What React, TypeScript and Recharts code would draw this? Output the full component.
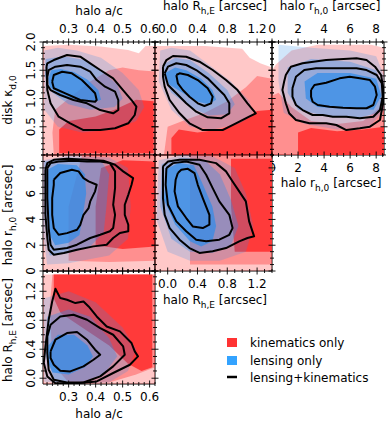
import React from 'react';
import { ScatterChart, Scatter, XAxis, YAxis } from 'recharts';

type Poly = [number, number][];

const RED = '#ff3333';
const BLUE = '#2f8bea';
const RED_ALPHA = [0.27, 0.38, 0.92];
const BLUE_ALPHA = [0.22, 0.35, 0.7];
const FONT = '"DejaVu Sans", sans-serif';

// panel boxes in page pixels
const COL_X = [43, 155, 272, 384];
const ROW_Y = [42, 155, 271, 384];
const M = 40;

// ---- axes ----
const AC_DOMAIN = [0.205, 0.62];
const AC_MAJOR = [0.3, 0.4, 0.5, 0.6];
const KAPPA_DOMAIN = [0.0, 2.0];
const KAPPA_MAJOR = [0.5, 1.0, 1.5, 2.0];
const RHE_X_DOMAIN = [-0.17, 1.4];
const RHE_Y_DOMAIN = [-0.08, 1.48];
const RHE_MAJOR = [0.0, 0.4, 0.8, 1.2];
const RH0_X_DOMAIN = [0, 8.6];
const RH0_Y_DOMAIN = [0, 9.0];
const RH0_MAJOR = [0, 2, 4, 6, 8];

// ---- halo a/c vs disk kappa ----
const AK_RED_1: Poly = [[0.205, 0], [0.62, 0], [0.62, 1.93], [0.585, 1.93], [0.56, 1.8], [0.52, 1.86], [0.42, 1.92], [0.3, 1.95], [0.205, 1.93]];
const AK_RED_2: Poly = [[0.245, 0], [0.62, 0], [0.62, 1.48], [0.56, 1.5], [0.5, 1.55], [0.45, 1.5], [0.38, 1.3], [0.3, 1.0], [0.25, 0.8], [0.24, 0.4]];
const AK_RED_3: Poly = [[0.265, 0.03], [0.615, 0.03], [0.615, 0.95], [0.55, 0.98], [0.47, 0.8], [0.4, 0.68], [0.3, 0.6], [0.265, 0.45]];
const AK_BLUE_1: Poly = [[0.21, 1.85], [0.26, 1.9], [0.33, 1.85], [0.42, 1.72], [0.5, 1.45], [0.56, 1.15], [0.58, 0.85], [0.55, 0.6], [0.47, 0.45], [0.35, 0.4], [0.26, 0.5], [0.21, 0.8]];
const AK_BLUE_2: Poly = [[0.215, 1.7], [0.28, 1.75], [0.36, 1.68], [0.42, 1.5], [0.48, 1.25], [0.5, 1.0], [0.47, 0.85], [0.38, 0.8], [0.3, 0.9], [0.24, 1.1], [0.212, 1.4]];
const AK_BLUE_3: Poly = [[0.225, 1.35], [0.235, 1.5], [0.27, 1.52], [0.32, 1.47], [0.37, 1.33], [0.41, 1.15], [0.42, 0.98], [0.39, 0.93], [0.33, 0.97], [0.27, 1.08], [0.23, 1.2]];
const AK_JOINT_1: Poly = [[0.218, 1.563], [0.221, 1.623], [0.245, 1.681], [0.294, 1.77], [0.343, 1.74], [0.38, 1.623], [0.417, 1.504], [0.465, 1.357], [0.496, 1.181], [0.533, 0.973], [0.551, 0.855], [0.545, 0.708], [0.521, 0.561], [0.472, 0.473], [0.417, 0.442], [0.355, 0.442], [0.306, 0.561], [0.263, 0.678], [0.233, 0.915], [0.221, 1.15]];
const AK_JOINT_2: Poly = [[0.221, 1.386], [0.226, 1.504], [0.251, 1.563], [0.294, 1.593], [0.343, 1.563], [0.38, 1.474], [0.404, 1.327], [0.435, 1.209], [0.472, 1.12], [0.484, 0.973], [0.484, 0.796], [0.465, 0.738], [0.417, 0.796], [0.368, 0.915], [0.318, 0.973], [0.269, 1.062], [0.233, 1.15], [0.221, 1.239]];
const AK_JOINT_3: Poly = [[0.239, 1.297], [0.245, 1.416], [0.276, 1.474], [0.312, 1.446], [0.349, 1.327], [0.38, 1.181], [0.398, 1.092], [0.404, 0.973], [0.398, 0.943], [0.343, 0.973], [0.288, 1.092], [0.245, 1.181]];

// ---- halo R_h,E vs disk kappa ----
const RK_RED_1: Poly = [[-0.17, 0], [1.4, 0], [1.4, 1.55], [1.25, 1.62], [1.1, 1.72], [1.0, 1.88], [0.5, 1.93], [-0.17, 1.93]];
const RK_RED_2: Poly = [[-0.05, 0], [1.4, 0], [1.4, 1.35], [1.2, 1.4], [1.05, 1.2], [0.8, 0.95], [0.5, 0.75], [0.2, 0.6], [0.0, 0.5]];
const RK_RED_3: Poly = [[0.05, 0], [1.4, 0], [1.4, 0.8], [1.2, 0.78], [1.0, 0.6], [0.7, 0.45], [0.4, 0.4], [0.15, 0.45], [0.05, 0.3]];
const RK_BLUE_1: Poly = [[-0.1, 1.85], [0.05, 1.9], [0.3, 1.85], [0.55, 1.6], [0.85, 1.3], [1.1, 0.95], [1.15, 0.7], [0.95, 0.55], [0.6, 0.45], [0.3, 0.5], [0.05, 0.8], [-0.12, 1.3]];
const RK_BLUE_2: Poly = [[-0.06, 1.6], [0.1, 1.72], [0.3, 1.68], [0.55, 1.45], [0.8, 1.15], [0.9, 0.9], [0.8, 0.72], [0.55, 0.7], [0.3, 0.85], [0.05, 1.1], [-0.06, 1.35]];
const RK_BLUE_3: Poly = [[-0.03, 1.45], [0.1, 1.55], [0.25, 1.5], [0.45, 1.35], [0.6, 1.15], [0.65, 0.98], [0.55, 0.9], [0.38, 0.95], [0.2, 1.1], [0.02, 1.25]];
const RK_JOINT_1: Poly = [[-0.063, 1.563], [-0.017, 1.681], [0.071, 1.752], [0.249, 1.74], [0.427, 1.651], [0.604, 1.504], [0.783, 1.327], [0.937, 1.15], [1.071, 0.915], [1.183, 0.738], [1.093, 0.678], [0.916, 0.561], [0.737, 0.442], [0.471, 0.442], [0.293, 0.561], [0.16, 0.738], [0.027, 0.973], [-0.04, 1.209], [-0.063, 1.386]];
const RK_JOINT_2: Poly = [[-0.04, 1.446], [0.004, 1.563], [0.116, 1.623], [0.249, 1.593], [0.383, 1.504], [0.537, 1.357], [0.649, 1.209], [0.76, 1.062], [0.827, 0.915], [0.827, 0.738], [0.716, 0.65], [0.537, 0.667], [0.383, 0.766], [0.249, 0.915], [0.116, 1.092], [0.004, 1.239]];
const RK_JOINT_3: Poly = [[0.116, 1.416], [0.16, 1.446], [0.271, 1.416], [0.404, 1.327], [0.537, 1.181], [0.604, 1.032], [0.583, 0.915], [0.493, 0.867], [0.404, 0.915], [0.293, 1.032], [0.204, 1.15], [0.137, 1.269]];

// ---- halo r_h,0 vs disk kappa ----
const HK_RED_1: Poly = [[0, 0], [8.6, 0], [8.6, 1.9], [7.6, 1.95], [3.5, 1.95], [1.5, 1.85], [0.3, 1.6], [0, 1.5]];
const HK_RED_2: Poly = [[0, 0], [8.6, 0], [8.6, 0.9], [7, 0.6], [5, 0.55], [3, 0.6], [1.5, 0.85], [0.5, 1.1], [0, 1.05]];
const HK_RED_3: Poly = [[2, 0], [8.6, 0], [8.6, 0.5], [7, 0.45], [5, 0.42], [3, 0.48], [2, 0.4]];
const HK_BLUE_1: Poly = [[0.5, 1.95], [3, 1.9], [6, 1.85], [8, 1.75], [8.6, 1.4], [8.6, 0.8], [7.5, 0.5], [5, 0.45], [2.5, 0.55], [0.9, 0.75], [0.5, 1.3]];
const HK_BLUE_2: Poly = [[1.2, 1.55], [3, 1.7], [6, 1.65], [8, 1.5], [8.6, 1.1], [8.2, 0.75], [6.5, 0.65], [4, 0.7], [2, 0.8], [1.2, 1.1]];
const HK_BLUE_3: Poly = [[2.5, 1.3], [3.5, 1.45], [6, 1.45], [8, 1.35], [8.4, 1.05], [7.8, 0.8], [5.5, 0.82], [3.5, 0.85], [2.6, 1.0]];
const HK_JOINT_1: Poly = [[0.93, 1.297], [1.06, 1.416], [1.45, 1.563], [2.35, 1.623], [4.16, 1.681], [6.49, 1.711], [7.26, 1.681], [7.91, 1.563], [8.37, 1.416], [8.53, 1.209], [8.53, 0.915], [8.29, 0.619], [7.52, 0.501], [6.74, 0.473], [5.71, 0.442], [4.94, 0.531], [4.16, 0.561], [2.87, 0.561], [1.84, 0.619], [1.32, 0.738], [1.06, 0.915], [0.8, 1.15]];
const HK_JOINT_2: Poly = [[1.57, 1.181], [1.84, 1.386], [2.48, 1.504], [3.39, 1.535], [4.94, 1.535], [6.49, 1.535], [7.26, 1.504], [8.04, 1.416], [8.43, 1.269], [8.5, 1.032], [8.29, 0.796], [7.78, 0.678], [6.74, 0.65], [5.71, 0.678], [4.67, 0.678], [3.9, 0.708], [3.12, 0.708], [2.35, 0.796], [1.84, 0.885], [1.57, 1.032]];
const HK_JOINT_3: Poly = [[3.0, 1.15], [3.26, 1.239], [4.16, 1.28], [5.19, 1.357], [5.97, 1.386], [6.74, 1.357], [7.52, 1.327], [7.91, 1.209], [8.04, 1.062], [7.78, 0.885], [7.26, 0.827], [6.49, 0.827], [5.45, 0.837], [4.42, 0.855], [3.51, 0.885], [3.12, 0.943], [3.0, 1.032]];

// ---- halo a/c vs halo r_h,0 ----
const AH_RED_1: Poly = [[0.205, 0], [0.62, 0], [0.62, 9], [0.205, 9]];
const AH_RED_2: Poly = [[0.3, 0.8], [0.45, 0.7], [0.62, 0.8], [0.62, 9], [0.35, 9], [0.3, 5]];
const AH_RED_3: Poly = [[0.4, 2.0], [0.5, 1.7], [0.62, 1.9], [0.62, 8.5], [0.5, 8.6], [0.42, 8.0], [0.4, 5]];
const AH_BLUE_1: Poly = [[0.205, 8.6], [0.3, 8.95], [0.45, 8.8], [0.52, 8], [0.53, 5], [0.52, 2.5], [0.45, 1.2], [0.3, 0.6], [0.22, 0.5], [0.205, 3]];
const AH_BLUE_2: Poly = [[0.21, 8.5], [0.3, 8.8], [0.42, 8.6], [0.45, 7.5], [0.44, 5], [0.43, 3], [0.38, 1.9], [0.3, 1.4], [0.23, 1.2], [0.21, 4]];
const AH_BLUE_3: Poly = [[0.225, 7.9], [0.26, 8.3], [0.33, 8.2], [0.36, 7.5], [0.365, 6], [0.35, 4], [0.34, 2.8], [0.3, 2.2], [0.25, 2.0], [0.225, 3], [0.22, 5.5]];
const AH_JOINT_1: Poly = [[0.214, 7.85], [0.221, 8.37], [0.245, 8.63], [0.294, 8.71], [0.368, 8.63], [0.429, 8.55], [0.472, 8.24], [0.502, 7.73], [0.539, 7.21], [0.533, 6.69], [0.521, 5.91], [0.508, 5.14], [0.508, 4.36], [0.521, 3.59], [0.521, 3.08], [0.49, 2.95], [0.465, 2.56], [0.441, 2.04], [0.392, 1.91], [0.331, 1.65], [0.282, 1.4], [0.245, 1.26], [0.226, 1.65], [0.221, 2.56], [0.214, 4.36], [0.214, 6.43]];
const AH_JOINT_2: Poly = [[0.221, 7.98], [0.233, 8.37], [0.263, 8.5], [0.318, 8.55], [0.368, 8.5], [0.417, 8.5], [0.453, 8.37], [0.472, 7.73], [0.472, 6.43], [0.465, 5.14], [0.472, 4.36], [0.465, 3.33], [0.453, 3.08], [0.417, 2.81], [0.38, 2.56], [0.331, 2.04], [0.294, 1.78], [0.245, 1.65], [0.233, 2.04], [0.226, 3.33], [0.221, 5.66], [0.221, 7.21]];
const AH_JOINT_3: Poly = [[0.245, 7.08], [0.269, 7.6], [0.312, 7.85], [0.337, 7.73], [0.355, 7.21], [0.374, 6.95], [0.404, 6.69], [0.398, 6.18], [0.38, 5.4], [0.374, 4.88], [0.355, 4.36], [0.343, 3.58], [0.331, 3.2], [0.294, 2.94], [0.263, 2.81], [0.245, 3.33], [0.239, 4.36], [0.239, 5.66], [0.245, 6.69]];

// ---- halo R_h,E vs halo r_h,0 ----
const RH_RED_1: Poly = [[-0.17, 0], [1.4, 0], [1.4, 9], [-0.17, 9]];
const RH_RED_2: Poly = [[0.3, 0.5], [1.4, 0.5], [1.4, 9], [0.3, 9]];
const RH_RED_3: Poly = [[0.9, 1.5], [1.4, 1.5], [1.4, 8.7], [0.85, 8.7], [0.85, 5]];
const RH_BLUE_1: Poly = [[-0.12, 8.6], [0.2, 9.0], [0.6, 8.9], [0.9, 8], [1.05, 6], [1.15, 3.5], [1.05, 1.5], [0.7, 0.8], [0.3, 0.8], [0.0, 1.5], [-0.15, 4]];
const RH_BLUE_2: Poly = [[-0.08, 8.3], [0.2, 8.8], [0.5, 8.6], [0.7, 7.5], [0.85, 5.5], [0.95, 3.5], [0.85, 2.0], [0.6, 1.4], [0.3, 1.5], [0.05, 2.5], [-0.1, 5]];
const RH_BLUE_3: Poly = [[-0.02, 7.9], [0.15, 8.4], [0.35, 8.2], [0.45, 7], [0.6, 5], [0.65, 3.5], [0.6, 2.3], [0.45, 1.9], [0.3, 2.3], [0.1, 3.6], [-0.05, 5.5]];
const RH_JOINT_1: Poly = [[-0.063, 8.12], [0.004, 8.5], [0.16, 8.63], [0.427, 8.63], [0.649, 8.37], [0.783, 7.73], [0.871, 6.95], [0.96, 6.18], [1.049, 5.4], [1.071, 4.63], [1.093, 3.85], [1.16, 2.69], [1.071, 2.56], [0.96, 2.3], [0.783, 1.78], [0.604, 1.53], [0.427, 1.4], [0.293, 1.78], [0.16, 2.43], [0.027, 3.33], [-0.04, 4.36], [-0.063, 5.66], [-0.063, 6.95]];
const RH_JOINT_2: Poly = [[-0.017, 7.98], [0.071, 8.37], [0.249, 8.5], [0.427, 8.24], [0.516, 7.47], [0.604, 6.43], [0.693, 5.4], [0.827, 4.36], [0.871, 3.33], [0.827, 2.81], [0.693, 2.43], [0.516, 2.3], [0.383, 2.43], [0.249, 3.08], [0.116, 3.85], [0.004, 5.14], [-0.027, 6.69]];
const RH_JOINT_3: Poly = [[0.137, 7.6], [0.183, 7.85], [0.271, 7.93], [0.36, 7.6], [0.404, 6.69], [0.471, 5.66], [0.56, 4.36], [0.56, 3.59], [0.471, 3.33], [0.337, 3.46], [0.249, 4.11], [0.137, 5.02], [0.093, 6.18], [0.107, 7.08]];

// ---- halo a/c vs halo R_h,E ----
const AR_RED_1: Poly = [[0.205, -0.08], [0.62, -0.08], [0.62, 1.43], [0.205, 1.43]];
const AR_RED_2: Poly = [[0.24, 1.43], [0.62, 1.43], [0.62, 0.15], [0.55, 0.05], [0.45, -0.06], [0.3, -0.06], [0.24, 0.2], [0.23, 1.0]];
const AR_RED_3: Poly = [[0.245, 1.43], [0.61, 1.43], [0.61, 0.15], [0.57, 0.1], [0.52, 0.2], [0.45, 0.45], [0.35, 0.7], [0.27, 0.9], [0.245, 1.1]];
const AR_BLUE_1: Poly = [[0.208, 1.1], [0.3, 1.2], [0.4, 1.05], [0.5, 0.7], [0.55, 0.4], [0.52, 0.1], [0.45, -0.06], [0.3, -0.07], [0.21, -0.05]];
const AR_BLUE_2: Poly = [[0.22, 0.85], [0.3, 0.95], [0.38, 0.85], [0.45, 0.55], [0.48, 0.3], [0.43, 0.05], [0.35, -0.05], [0.25, -0.05], [0.215, 0.3]];
const AR_BLUE_3: Poly = [[0.225, 0.45], [0.26, 0.6], [0.32, 0.6], [0.37, 0.45], [0.39, 0.3], [0.36, 0.15], [0.3, 0.05], [0.24, 0.08], [0.22, 0.25]];
const AR_JOINT_1: Poly = [[0.239, 1.059], [0.251, 1.234], [0.269, 1.106], [0.294, 1.083], [0.325, 1.037], [0.355, 1.059], [0.374, 0.99], [0.404, 0.852], [0.441, 0.714], [0.49, 0.646], [0.533, 0.486], [0.545, 0.37], [0.557, 0.301], [0.527, 0.186], [0.465, 0.072], [0.404, -0.044], [0.331, -0.07], [0.251, -0.07], [0.221, 0.025], [0.208, 0.21], [0.214, 0.439], [0.226, 0.807]];
const AR_JOINT_2: Poly = [[0.221, 0.577], [0.233, 0.738], [0.269, 0.852], [0.318, 0.876], [0.368, 0.807], [0.417, 0.692], [0.465, 0.6], [0.502, 0.439], [0.508, 0.324], [0.465, 0.163], [0.417, 0.025], [0.355, -0.06], [0.294, -0.06], [0.245, -0.021], [0.226, 0.117], [0.221, 0.348]];
const AR_JOINT_3: Poly = [[0.233, 0.37], [0.251, 0.531], [0.294, 0.623], [0.331, 0.637], [0.368, 0.531], [0.398, 0.393], [0.417, 0.324], [0.392, 0.255], [0.355, 0.163], [0.306, 0.094], [0.269, 0.103], [0.245, 0.186], [0.233, 0.279]];

type AxisDef = { domain: number[]; major: number[]; minor: number; fmt: (v: number) => string };

const AX_AC: AxisDef = { domain: AC_DOMAIN, major: AC_MAJOR, minor: 0.02, fmt: (v) => v.toFixed(1) };
const AX_KAPPA: AxisDef = { domain: KAPPA_DOMAIN, major: KAPPA_MAJOR, minor: 0.1, fmt: (v) => v.toFixed(1) };
const AX_RHE_X: AxisDef = { domain: RHE_X_DOMAIN, major: RHE_MAJOR, minor: 0.1, fmt: (v) => v.toFixed(1) };
const AX_RHE_Y: AxisDef = { domain: RHE_Y_DOMAIN, major: RHE_MAJOR, minor: 0.1, fmt: (v) => v.toFixed(1) };
const AX_RH0_X: AxisDef = { domain: RH0_X_DOMAIN, major: RH0_MAJOR, minor: 0.5, fmt: (v) => String(v) };
const AX_RH0_Y: AxisDef = { domain: RH0_Y_DOMAIN, major: RH0_MAJOR, minor: 0.5, fmt: (v) => String(v) };

function allTicks(ax: AxisDef) {
  const out: number[] = [];
  const start = Math.ceil(ax.domain[0] / ax.minor - 1e-6);
  const end = Math.floor(ax.domain[1] / ax.minor + 1e-6);
  for (let i = start; i <= end; i++) out.push(Math.round(i * ax.minor * 1000) / 1000);
  return out;
}

const isMajor = (ax: AxisDef, v: number) => ax.major.some((m) => Math.abs(m - v) < 1e-6);

function tickRenderer(side: string, ax: AxisDef, showLabel: boolean) {
  return (props: any) => {
    const { x, y, payload } = props;
    const v = payload.value;
    const major = isMajor(ax, v);
    const len = major ? 3.5 : 2;
    const horiz = side === 'top' || side === 'bottom';
    let label = null;
    if (showLabel && major) {
      const txt = ax.fmt(v);
      if (side === 'bottom')
        label = <text x={x} y={y + 16.5} textAnchor="middle" fontSize={12} fontFamily={FONT} fill="#000">{txt}</text>;
      else if (side === 'top')
        label = <text x={x} y={y - 9} textAnchor="middle" fontSize={12} fontFamily={FONT} fill="#000">{txt}</text>;
      else if (side === 'left')
        label = (
          <text transform={`translate(${x - 8},${y}) rotate(-90)`} textAnchor="middle" fontSize={12} fontFamily={FONT} fill="#000">
            {txt}
          </text>
        );
    }
    return (
      <g>
        {horiz ? (
          <line x1={x} x2={x} y1={y - len} y2={y + len} stroke="#000" strokeWidth={0.9} />
        ) : (
          <line x1={x - len} x2={x + len} y1={y} y2={y} stroke="#000" strokeWidth={0.9} />
        )}
        {label}
      </g>
    );
  };
}

const toData = (p: Poly) => p.map(([x, y]) => ({ x, y }));
const closed = (p: Poly) => toData([...p, p[0]]);
const noPoint = () => <g />;

type PanelProps = {
  col: number;
  row: number;
  xAx: AxisDef;
  yAx: AxisDef;
  red: Poly[];
  blue: Poly[];
  joint: Poly[];
  labels: { top?: boolean; bottom?: boolean; left?: boolean };
};

// axes get a 1px band (a zero-size axis is not drawn by recharts)
const AX_PX = 1;

function Panel({ col, row, xAx, yAx, red, blue, joint, labels }: PanelProps) {
  const w = COL_X[col + 1] - COL_X[col];
  const h = ROW_Y[row + 1] - ROW_Y[row];
  const xt = allTicks(xAx);
  const yt = allTicks(yAx);
  const pad = M - AX_PX;
  const common = { xAxisId: 'b', yAxisId: 'l', isAnimationActive: false, shape: noPoint } as any;
  return (
    <div style={{ position: 'absolute', left: COL_X[col] - M, top: ROW_Y[row] - M }}>
      <ScatterChart width={w + 2 * M} height={h + 2 * M} margin={{ top: pad, right: pad, bottom: pad, left: pad }}>
        {red.map((p, i) => (
          <Scatter key={`r${i}`} {...common} data={closed(p)} line={{ fill: RED, fillOpacity: RED_ALPHA[i], stroke: 'none' }} />
        ))}
        {blue.map((p, i) => (
          <Scatter key={`b${i}`} {...common} data={closed(p)} line={{ fill: BLUE, fillOpacity: BLUE_ALPHA[i], stroke: 'none' }} />
        ))}
        {joint.map((p, i) => (
          <Scatter key={`j${i}`} {...common} data={closed(p)} line={{ fill: 'none', stroke: '#000', strokeWidth: 2, strokeLinejoin: 'round' }} />
        ))}
        <Scatter xAxisId="t" yAxisId="r" data={closed(joint[0])} isAnimationActive={false} shape={noPoint} />
        <XAxis xAxisId="b" orientation="bottom" type="number" dataKey="x" domain={xAx.domain} allowDataOverflow ticks={xt} interval={0}
          height={AX_PX} tickSize={0} tickMargin={0} tickLine={false} axisLine={{ stroke: '#000' }} tick={tickRenderer('bottom', xAx, !!labels.bottom)} />
        <XAxis xAxisId="t" orientation="top" type="number" dataKey="x" domain={xAx.domain} allowDataOverflow ticks={xt} interval={0}
          height={AX_PX} tickSize={0} tickMargin={0} tickLine={false} axisLine={{ stroke: '#000' }} tick={tickRenderer('top', xAx, !!labels.top)} />
        <YAxis yAxisId="l" orientation="left" type="number" dataKey="y" domain={yAx.domain} allowDataOverflow ticks={yt} interval={0}
          width={AX_PX} tickSize={0} tickMargin={0} tickLine={false} axisLine={{ stroke: '#000' }} tick={tickRenderer('left', yAx, !!labels.left)} />
        <YAxis yAxisId="r" orientation="right" type="number" dataKey="y" domain={yAx.domain} allowDataOverflow ticks={yt} interval={0}
          width={AX_PX} tickSize={0} tickMargin={0} tickLine={false} axisLine={{ stroke: '#000' }} tick={tickRenderer('right', yAx, false)} />
      </ScatterChart>
    </div>
  );
}

function Title({ x, y, main, sub, rest, rotate }: { x: number; y: number; main: string; sub?: string; rest?: string; rotate?: boolean }) {
  return (
    <text
      transform={rotate ? `translate(${x},${y}) rotate(-90)` : `translate(${x},${y})`}
      textAnchor="middle"
      fontSize={12}
      fontFamily={FONT}
      fill="#000"
    >
      {main}
      {sub && (
        <tspan dy={4} fontSize={9}>
          {sub}
        </tspan>
      )}
      {rest && <tspan dy={sub ? -4 : 0}>{rest}</tspan>}
    </text>
  );
}

export default function App() {
  return (
    <div style={{ position: 'absolute', left: 0, top: 0, width: 390, height: 426, background: '#fff', overflow: 'hidden' }}>
      <Panel col={0} row={0} xAx={AX_AC} yAx={AX_KAPPA} red={[AK_RED_1, AK_RED_2, AK_RED_3]} blue={[AK_BLUE_1, AK_BLUE_2, AK_BLUE_3]}
        joint={[AK_JOINT_1, AK_JOINT_2, AK_JOINT_3]} labels={{ top: true, left: true }} />
      <Panel col={1} row={0} xAx={AX_RHE_X} yAx={AX_KAPPA} red={[RK_RED_1, RK_RED_2, RK_RED_3]} blue={[RK_BLUE_1, RK_BLUE_2, RK_BLUE_3]}
        joint={[RK_JOINT_1, RK_JOINT_2, RK_JOINT_3]} labels={{ top: true }} />
      <Panel col={2} row={0} xAx={AX_RH0_X} yAx={AX_KAPPA} red={[HK_RED_1, HK_RED_2, HK_RED_3]} blue={[HK_BLUE_1, HK_BLUE_2, HK_BLUE_3]}
        joint={[HK_JOINT_1, HK_JOINT_2, HK_JOINT_3]} labels={{ top: true, bottom: true }} />
      <Panel col={0} row={1} xAx={AX_AC} yAx={AX_RH0_Y} red={[AH_RED_1, AH_RED_2, AH_RED_3]} blue={[AH_BLUE_1, AH_BLUE_2, AH_BLUE_3]}
        joint={[AH_JOINT_1, AH_JOINT_2, AH_JOINT_3]} labels={{ left: true }} />
      <Panel col={1} row={1} xAx={AX_RHE_X} yAx={AX_RH0_Y} red={[RH_RED_1, RH_RED_2, RH_RED_3]} blue={[RH_BLUE_1, RH_BLUE_2, RH_BLUE_3]}
        joint={[RH_JOINT_1, RH_JOINT_2, RH_JOINT_3]} labels={{ bottom: true }} />
      <Panel col={0} row={2} xAx={AX_AC} yAx={AX_RHE_Y} red={[AR_RED_1, AR_RED_2, AR_RED_3]} blue={[AR_BLUE_1, AR_BLUE_2, AR_BLUE_3]}
        joint={[AR_JOINT_1, AR_JOINT_2, AR_JOINT_3]} labels={{ left: true, bottom: true }} />

      <svg width={390} height={426} style={{ position: 'absolute', left: 0, top: 0, pointerEvents: 'none' }}>
        <Title x={99} y={15} main="halo a/c" />
        <Title x={215} y={9.5} main="halo R" sub="h,E" rest=" [arcsec]" />
        <Title x={330} y={9.5} main="halo r" sub="h,0" rest=" [arcsec]" />
        <Title x={12} y={100} main="disk κ" sub="d,0" rotate />
        <Title x={12} y={215} main="halo r" sub="h,0" rest=" [arcsec]" rotate />
        <Title x={12} y={330} main="halo R" sub="h,E" rest=" [arcsec]" rotate />
        <Title x={331} y={187} main="halo r" sub="h,0" rest=" [arcsec]" />
        <Title x={215} y={304} main="halo R" sub="h,E" rest=" [arcsec]" />
        <Title x={99} y={418} main="halo a/c" />

        <rect x={227} y={338} width={10} height={9} fill={RED} />
        <text x={250} y={347} fontSize={12} fontFamily={FONT}>kinematics only</text>
        <rect x={227} y={356} width={10} height={9} fill="#33a3ff" />
        <text x={250} y={364.5} fontSize={12} fontFamily={FONT}>lensing only</text>
        <line x1={227} x2={237} y1={377} y2={377} stroke="#000" strokeWidth={2.5} />
        <text x={250} y={382} fontSize={12} fontFamily={FONT}>lensing+kinematics</text>
      </svg>
    </div>
  );
}
